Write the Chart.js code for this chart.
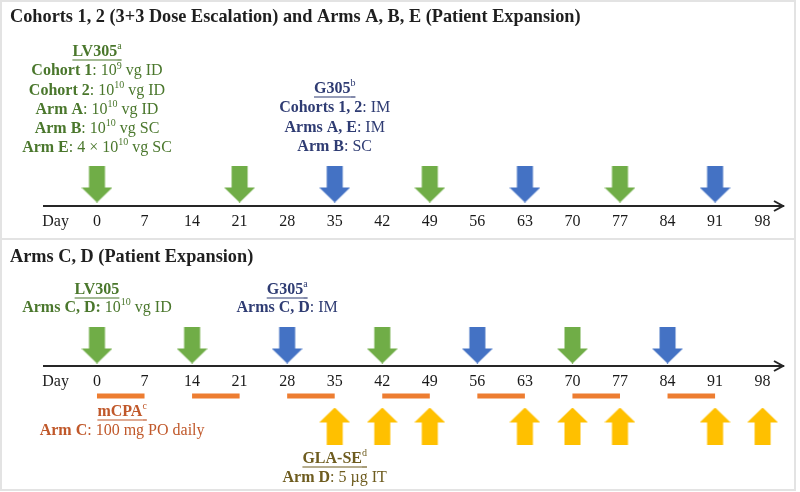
<!DOCTYPE html>
<html>
<head>
<meta charset="utf-8">
<script src="https://cdn.jsdelivr.net/npm/chart.js@4.4.1/dist/chart.umd.min.js"></script>
<style>
  html, body { margin: 0; padding: 0; background: #fff; }
  canvas { display: block; }
</style>
</head>
<body>
<canvas id="timeline" width="800" height="492"></canvas>
<script>
// ---- schedule (study days) ----
const dayTicks = [0, 7, 14, 21, 28, 35, 42, 49, 56, 63, 70, 77, 84, 91, 98];
const topLV305Days = [0, 21, 49, 77];
const topG305Days = [35, 63, 91];
const botLV305Days = [0, 14, 42, 70];
const botG305Days = [28, 56, 84];
const mcpaStartDays = [0, 14, 28, 42, 56, 70, 84];
const mcpaLength = 7;
const glaDays = [35, 42, 49, 63, 70, 77, 91, 98];

// ---- text ----
const title1 = 'Cohorts 1, 2 (3+3 Dose Escalation) and Arms A, B, E (Patient Expansion)';
const title2 = 'Arms C, D (Patient Expansion)';

const topLV305Text = [
  [{ t: 'LV305', b: 1, u: 1 }, { t: 'a', sup: 1, u: 1 }],
  [{ t: 'Cohort 1', b: 1 }, { t: ': 10' }, { t: '9', sup: 1 }, { t: ' vg ID' }],
  [{ t: 'Cohort 2', b: 1 }, { t: ': 10' }, { t: '10', sup: 1 }, { t: ' vg ID' }],
  [{ t: 'Arm A', b: 1 }, { t: ': 10' }, { t: '10', sup: 1 }, { t: ' vg ID' }],
  [{ t: 'Arm B', b: 1 }, { t: ': 10' }, { t: '10', sup: 1 }, { t: ' vg SC' }],
  [{ t: 'Arm E', b: 1 }, { t: ': 4 × 10' }, { t: '10', sup: 1 }, { t: ' vg SC' }]
];
const topG305Text = [
  [{ t: 'G305', b: 1, u: 1 }, { t: 'b', sup: 1, u: 1 }],
  [{ t: 'Cohorts 1, 2', b: 1 }, { t: ': IM' }],
  [{ t: 'Arms A, E', b: 1 }, { t: ': IM' }],
  [{ t: 'Arm B', b: 1 }, { t: ': SC' }]
];
const botLV305Text = [
  [{ t: 'LV305', b: 1, u: 1 }],
  [{ t: 'Arms C, D:', b: 1 }, { t: ' 10' }, { t: '10', sup: 1 }, { t: ' vg ID' }]
];
const botG305Text = [
  [{ t: 'G305', b: 1, u: 1 }, { t: 'a', sup: 1, u: 1 }],
  [{ t: 'Arms C, D', b: 1 }, { t: ': IM' }]
];
const mcpaText = [
  [{ t: 'mCPA', b: 1, u: 1 }, { t: 'c', sup: 1, u: 1 }],
  [{ t: 'Arm C', b: 1 }, { t: ': 100 mg PO daily' }]
];
const glaText = [
  [{ t: 'GLA-SE', b: 1, u: 1 }, { t: 'd', sup: 1, u: 1 }],
  [{ t: 'Arm D', b: 1 }, { t: ': 5 µg IT' }]
];

// ---- look ----
const FONT = '"Liberation Serif", "Times New Roman", serif';
const GREEN = '#70ad47', BLUE = '#4472c4', ORANGE = '#ed7d31', YELLOW = '#ffc000';
const GREEN_TXT = '#4a772c', BLUE_TXT = '#2f3c73', ORANGE_TXT = '#c0582a', OLIVE_TXT = '#6e5c1f';

// lanes on the (hidden) vertical scale, measured in rows from the top
const ROW = { topAxis: 206, topArrows: 184, botAxis: 366, botArrows: 345, bars: 396, glaArrows: 426 };

function makeArrow(color, up) {
  const w = 31, h = 37, shaftW = 16, headH = 15;
  const c = document.createElement('canvas');
  c.width = w; c.height = h;
  const g = c.getContext('2d');
  if (up) { g.translate(0, h); g.scale(1, -1); }
  const sx = (w - shaftW) / 2;
  g.fillStyle = color;
  g.beginPath();
  g.moveTo(sx, 0);
  g.lineTo(sx + shaftW, 0);
  g.lineTo(sx + shaftW, h - headH);
  g.lineTo(w, h - headH);
  g.lineTo(w / 2, h);
  g.lineTo(0, h - headH);
  g.lineTo(sx, h - headH);
  g.closePath();
  g.fill();
  return c;
}
const greenDown = makeArrow(GREEN, false);
const blueDown = makeArrow(BLUE, false);
const yellowUp = makeArrow(YELLOW, true);

function pts(days, y) { return days.map(d => ({ x: d, y: y })); }

const barData = [];
mcpaStartDays.forEach(s => {
  barData.push({ x: s, y: ROW.bars }, { x: s + mcpaLength, y: ROW.bars }, { x: s + mcpaLength, y: null });
});

function arrowSet(label, days, y, img, axis) {
  return {
    label: label, data: pts(days, y), xAxisID: axis, yAxisID: 'y',
    pointStyle: img, pointRadius: 16, pointHoverRadius: 16, showLine: false
  };
}

function fontStr(seg, size) {
  return (seg.b ? 'bold ' : '') + (seg.sup ? Math.round(size * 0.62) : size) + 'px ' + FONT;
}

function drawRich(ctx, lines, cx, y0, lineH, color, size) {
  ctx.save();
  ctx.fillStyle = color;
  ctx.strokeStyle = color;
  ctx.textBaseline = 'middle';
  ctx.textAlign = 'left';
  lines.forEach((line, li) => {
    const y = y0 + li * lineH;
    let total = 0;
    const widths = line.map(seg => { ctx.font = fontStr(seg, size); const w = ctx.measureText(seg.t).width; total += w; return w; });
    let x = cx - total / 2;
    line.forEach((seg, i) => {
      ctx.font = fontStr(seg, size);
      ctx.fillText(seg.t, x, seg.sup ? y - size * 0.33 : y);
      if (seg.u) {
        ctx.lineWidth = 1.2;
        ctx.beginPath();
        ctx.moveTo(x, y + size * 0.5);
        ctx.lineTo(x + widths[i], y + size * 0.5);
        ctx.stroke();
      }
      x += widths[i];
    });
  });
  ctx.restore();
}

function dayAxis(rowY) {
  return {
    type: 'linear', axis: 'x', min: -7.8, max: 101,
    position: { y: rowY },
    grid: { display: false, drawTicks: false },
    border: { display: true, color: '#262626', width: 2 },
    ticks: {
      autoSkip: false, maxRotation: 0, padding: 6, color: '#1a1a1a',
      font: { family: FONT, size: 16 },
      callback: (v, i) => i === 0 ? 'Day' : v
    },
    afterBuildTicks: s => { s.ticks = [{ value: -6.1 }].concat(dayTicks.map(v => ({ value: v }))); }
  };
}

const decor = {
  id: 'decor',
  beforeDraw(chart) {
    const ctx = chart.ctx;
    ctx.save();
    ctx.fillStyle = '#fff';
    ctx.fillRect(0, 0, chart.width, chart.height);
    ctx.restore();
  },
  afterDraw(chart) {
    const ctx = chart.ctx;
    const xs = chart.scales.x, xb = chart.scales.x2, ys = chart.scales.y;

    // arrowheads on the day axes
    [[xs, ROW.topAxis], [xb, ROW.botAxis]].forEach(([sc, row]) => {
      const px = sc.right, py = ys.getPixelForValue(row);
      ctx.save();
      ctx.strokeStyle = '#262626';
      ctx.lineWidth = 2;
      ctx.beginPath();
      ctx.moveTo(px - 9, py - 5);
      ctx.lineTo(px, py);
      ctx.lineTo(px - 9, py + 5);
      ctx.stroke();
      ctx.restore();
    });

    // frame and separator
    ctx.save();
    ctx.strokeStyle = '#e3e3e3';
    ctx.lineWidth = 2;
    ctx.strokeRect(1, 1, 794, 489);
    ctx.beginPath();
    ctx.moveTo(0, 239);
    ctx.lineTo(795, 239);
    ctx.stroke();
    ctx.restore();

    // section titles
    ctx.save();
    ctx.fillStyle = '#1f1f1f';
    ctx.font = 'bold 18.3px ' + FONT;
    ctx.textBaseline = 'middle';
    ctx.fillText(title1, 10, 17);
    ctx.fillText(title2, 10, 257);
    ctx.restore();

    drawRich(ctx, topLV305Text, xs.getPixelForValue(0), 52, 19.2, GREEN_TXT, 16);
    drawRich(ctx, topG305Text, xs.getPixelForValue(35), 89, 19.2, BLUE_TXT, 16);
    drawRich(ctx, botLV305Text, xb.getPixelForValue(0), 290, 18, GREEN_TXT, 16);
    drawRich(ctx, botG305Text, xb.getPixelForValue(28), 290, 18, BLUE_TXT, 16);
    drawRich(ctx, mcpaText, xb.getPixelForValue(3.7), 412, 18.5, ORANGE_TXT, 16);
    drawRich(ctx, glaText, xb.getPixelForValue(35), 459, 18.5, OLIVE_TXT, 16);
  }
};

const chart = new Chart(document.getElementById('timeline'), {
  type: 'scatter',
  data: {
    datasets: [
      arrowSet('LV305', topLV305Days, ROW.topArrows, greenDown, 'x'),
      arrowSet('G305', topG305Days, ROW.topArrows, blueDown, 'x'),
      arrowSet('LV305 (Arms C, D)', botLV305Days, ROW.botArrows, greenDown, 'x2'),
      arrowSet('G305 (Arms C, D)', botG305Days, ROW.botArrows, blueDown, 'x2'),
      {
        label: 'mCPA', data: barData, xAxisID: 'x2', yAxisID: 'y',
        showLine: true, spanGaps: false, borderColor: ORANGE, borderWidth: 5,
        borderCapStyle: 'butt', pointRadius: 0, pointHoverRadius: 0
      },
      arrowSet('GLA-SE', glaDays, ROW.glaArrows, yellowUp, 'x2')
    ]
  },
  options: {
    responsive: false,
    animation: false,
    devicePixelRatio: 1,
    layout: { padding: { left: 44, right: 13, top: 0, bottom: 0 } },
    plugins: { legend: { display: false }, tooltip: { enabled: false } },
    scales: {
      x: dayAxis(ROW.topAxis),
      x2: dayAxis(ROW.botAxis),
      y: { type: 'linear', display: false, min: 0, max: 492, reverse: true }
    }
  },
  plugins: [decor]
});

// line the lane scale up with the canvas rows once the layout is known
chart.options.scales.y.min = chart.chartArea.top;
chart.options.scales.y.max = chart.chartArea.bottom;
chart.update();
</script>
</body>
</html>
